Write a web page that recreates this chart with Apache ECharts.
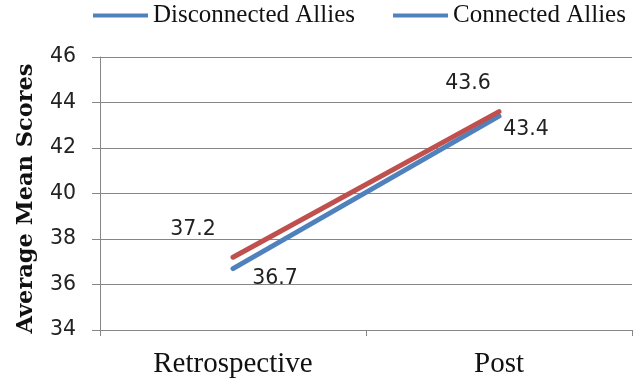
<!DOCTYPE html>
<html>
<head>
<meta charset="utf-8">
<script src="https://cdn.jsdelivr.net/npm/echarts@6/dist/echarts.min.js"></script>
<style>
  html, body { margin: 0; padding: 0; background: #fff; }
  #chart { width: 643px; height: 379px; }
</style>
</head>
<body>
<div id="chart"></div>
<script>
// Survey phases on the x axis
const phases = ['Retrospective', 'Post'];

// Average mean scores per group
const disconnectedScores = [36.7, 43.4];
const connectedScores = [37.2, 43.6];

// Value axis range
const yMin = 34;
const yMax = 46;
const yStep = 2;

const BLUE = '#4F81BD';
const RED = '#C0504D';

// Where each value label sits relative to its point
const disconnectedLabelOffsets = [[42, 10], [27, 14]];
const connectedLabelOffsets = [[-40, -28], [-31, -28]];

function withLabels(values, offsets) {
  return values.map((v, i) => ({
    value: v,
    label: { offset: offsets[i] }
  }));
}

const chart = echarts.init(document.getElementById('chart'));

chart.setOption({
  animation: false,
  backgroundColor: '#ffffff',
  legend: {
    left: 93,
    top: 3,
    width: 560,
    padding: 0,
    icon: 'rect',
    itemWidth: 55,
    itemHeight: 4,
    itemGap: 38,
    textStyle: {
      fontFamily: 'Liberation Serif',
      fontSize: 25,
      color: '#111'
    },
    data: [
      { name: 'Disconnected Allies', itemStyle: { color: BLUE } },
      { name: 'Connected Allies', itemStyle: { color: BLUE } }
    ]
  },
  grid: {
    left: 100,
    right: 11,
    top: 57,
    bottom: 49
  },
  xAxis: {
    type: 'category',
    data: phases,
    boundaryGap: true,
    axisLine: { lineStyle: { color: '#868686', width: 1 } },
    axisTick: { show: true, length: 6, lineStyle: { color: '#868686' } },
    axisLabel: {
      margin: 20,
      fontFamily: 'Liberation Serif',
      fontSize: 29,
      color: '#111'
    }
  },
  yAxis: {
    type: 'value',
    min: yMin,
    max: yMax,
    interval: yStep,
    name: 'Average Mean Scores',
    nameLocation: 'middle',
    nameRotate: 90,
    nameGap: 62,
    nameTextStyle: {
      fontFamily: 'DejaVu Serif',
      fontWeight: 'bold',
      fontSize: 22.5,
      color: '#111',
      padding: [0, 10, 0, 0]
    },
    axisLine: { show: true, lineStyle: { color: '#868686', width: 1 } },
    axisTick: { show: true, length: 8, lineStyle: { color: '#868686' } },
    splitLine: { show: true, lineStyle: { color: '#868686', width: 1 } },
    axisLabel: {
      margin: 24,
      fontFamily: 'DejaVu Sans',
      fontSize: 20.5,
      color: '#222'
    }
  },
  series: [
    {
      name: 'Disconnected Allies',
      type: 'line',
      data: withLabels(disconnectedScores, disconnectedLabelOffsets),
      symbol: 'circle',
      symbolSize: 1,
      color: BLUE,
      lineStyle: { color: BLUE, width: 5, cap: 'round' },
      label: {
        show: true,
        position: 'inside',
        fontFamily: 'DejaVu Sans',
        fontSize: 20.5,
        color: '#222'
      }
    },
    {
      name: 'Connected Allies',
      type: 'line',
      data: withLabels(connectedScores, connectedLabelOffsets),
      symbol: 'circle',
      symbolSize: 1,
      color: RED,
      lineStyle: { color: RED, width: 5, cap: 'round' },
      label: {
        show: true,
        position: 'inside',
        fontFamily: 'DejaVu Sans',
        fontSize: 20.5,
        color: '#222'
      }
    }
  ]
});
</script>
</body>
</html>
